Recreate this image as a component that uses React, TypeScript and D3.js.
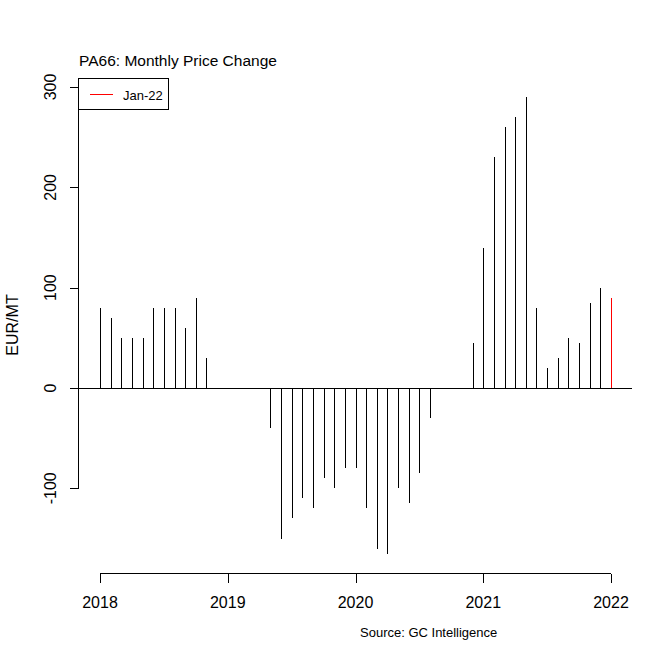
import React from "react";
import * as d3 from "d3";

// monthly price change, EUR/MT, Jan 2018 .. Jan 2022
const startYear = 2018;
const changes2018 = [80, 70, 50, 50, 50, 80, 80, 80, 60, 90, 30, 0];
const changes2019 = [0, 0, 0, 0, -40, -150, -130, -110, -120, -90, -100, -80];
const changes2020 = [-80, -120, -160, -165, -100, -115, -85, -30, 0, 0, 0, 45];
const changes2021 = [140, 230, 260, 270, 290, 80, 20, 30, 50, 45, 85, 100];
const changes2022 = [90];
const changes = [...changes2018, ...changes2019, ...changes2020, ...changes2021, ...changes2022];

const xTicks = [2018, 2019, 2020, 2021, 2022];
const yTicks = [-100, 0, 100, 200, 300];
const legendLabel = "Jan-22";
const title = "PA66: Monthly Price Change";
const yLabel = "EUR/MT";
const source = "Source: GC Intelligence";

const W = 672;
const H = 671;
const plotLeft = 78.5;
const plotRight = 631.5;
const font = "'Liberation Sans', Arial, sans-serif";

export default function App() {
  const x = d3.scaleLinear().domain([2018, 2022]).range([100, 611]);
  const y = d3.scaleLinear().domain([0, 300]).range([388, 87]);
  const axisY = 573.5;

  const points = changes.map((v, i) => ({
    t: startYear + i / 12,
    v,
    last: i === changes.length - 1,
  }));

  return (
    <svg
      width={W}
      height={H}
      style={{ position: "absolute", left: 0, top: 0, background: "#fff" }}
      fontFamily={font}
    >
      <rect width={W} height={H} fill="#fff" />

      {/* title */}
      <text x={79} y={66} fontSize={15.5} fill="#000">
        {title}
      </text>

      <g shapeRendering="crispEdges">
        {/* zero line */}
        <line x1={plotLeft} x2={plotRight} y1={y(0) + 0.5} y2={y(0) + 0.5} stroke="#000" strokeWidth={1} />

        {/* spikes */}
        {points
          .filter((d) => d.v !== 0)
          .map((d, i) => (
            <line
              key={i}
              x1={Math.round(x(d.t)) + 0.5}
              x2={Math.round(x(d.t)) + 0.5}
              y1={y(0)}
              y2={y(d.v)}
              stroke={d.last ? "#ff0000" : "#000"}
              strokeWidth={1}
            />
          ))}

        {/* y axis */}
        <line x1={plotLeft} x2={plotLeft} y1={y(300)} y2={y(-100)} stroke="#000" />
        {yTicks.map((t) => (
          <line key={t} x1={plotLeft - 9} x2={plotLeft} y1={Math.round(y(t)) + 0.5} y2={Math.round(y(t)) + 0.5} stroke="#000" />
        ))}

        {/* x axis */}
        <line x1={x(2018)} x2={x(2022)} y1={axisY} y2={axisY} stroke="#000" />
        {xTicks.map((t) => (
          <line key={t} x1={Math.round(x(t)) + 0.5} x2={Math.round(x(t)) + 0.5} y1={axisY} y2={axisY + 9} stroke="#000" />
        ))}

        {/* legend */}
        <rect x={plotLeft} y={78.5} width={90} height={31} fill="#fff" stroke="#000" />
        <line x1={90} x2={113} y1={94.5} y2={94.5} stroke="#ff0000" />
      </g>

      {yTicks.map((t) => (
        <text
          key={t}
          transform={`translate(56,${y(t)}) rotate(-90)`}
          textAnchor="middle"
          fontSize={16}
          fill="#000"
        >
          {t}
        </text>
      ))}
      <text
        transform={`translate(18,325) rotate(-90)`}
        textAnchor="middle"
        fontSize={16}
        fill="#000"
      >
        {yLabel}
      </text>

      {xTicks.map((t) => (
        <text key={t} x={x(t)} y={608} textAnchor="middle" fontSize={16} fill="#000">
          {t}
        </text>
      ))}

      <text x={123} y={99.5} fontSize={13} fill="#000">
        {legendLabel}
      </text>

      {/* source */}
      <text x={360} y={637} fontSize={13} fill="#000">
        {source}
      </text>
    </svg>
  );
}
